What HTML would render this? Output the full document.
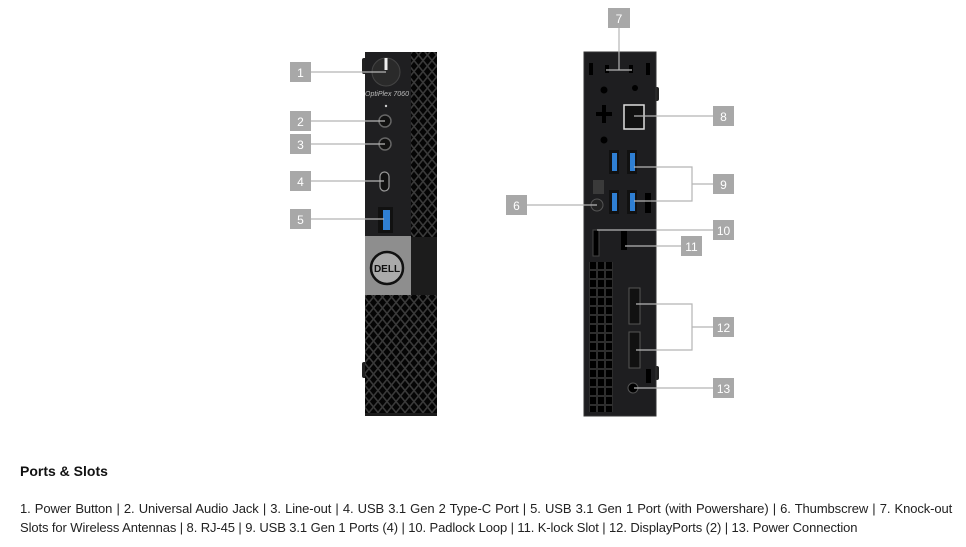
<!DOCTYPE html>
<html><head><meta charset="utf-8"><style>
html,body{margin:0;padding:0;background:#fff;width:966px;height:547px;overflow:hidden}
svg{position:absolute;left:0;top:0}
.t{position:absolute;font-family:"Liberation Sans",sans-serif;color:#111}
</style></head><body>
<svg width="966" height="547" viewBox="0 0 966 547">
<defs>
<pattern id="dia" x="0" y="0" width="9" height="11" patternUnits="userSpaceOnUse">
<rect width="9" height="11" fill="#3a3a3a"/>
<path d="M4.5 1.2 L8 5.5 L4.5 9.8 L1 5.5Z" fill="#050505"/>
<path d="M0 -4.3 L3.5 0 L0 4.3 L-3.5 0Z M9 -4.3 L12.5 0 L9 4.3 L5.5 0Z M0 6.7 L3.5 11 L0 15.3 L-3.5 11Z M9 6.7 L12.5 11 L9 15.3 L5.5 11Z" fill="#050505"/>
</pattern>
<pattern id="sq" x="590" y="262" width="8" height="9" patternUnits="userSpaceOnUse">
<rect width="8" height="9" fill="#2e2e2e"/><rect x="0" y="0" width="6" height="7" fill="#000"/>
</pattern>
</defs>
<!-- FRONT -->
<rect x="362" y="58" width="5" height="16" rx="2" fill="#222"/>
<rect x="362" y="362" width="5" height="16" rx="2" fill="#222"/>
<rect x="365" y="52" width="72" height="364" fill="#1c1c1c"/>
<rect x="411" y="52" width="26" height="185" fill="url(#dia)"/>
<rect x="365" y="295" width="72" height="118" fill="url(#dia)"/>
<rect x="365" y="52" width="46" height="184" fill="#1f1f21"/>
<rect x="365" y="236" width="46" height="59" fill="#8e8e8e"/>
<circle cx="387" cy="268" r="16" fill="#aaa" stroke="#111" stroke-width="2.5"/>
<text x="387" y="272" text-anchor="middle" font-family="Liberation Sans" font-weight="bold" font-size="10" fill="#111">DELL</text>
<circle cx="386" cy="72" r="14" fill="#2a2a2a" stroke="#444"/>
<rect x="384.5" y="58" width="3" height="12" fill="#eee"/>
<text x="365" y="96" font-family="Liberation Sans" font-style="italic" font-size="7" fill="#bbb">OptiPlex 7060</text>
<circle cx="386" cy="106" r="1.2" fill="#ccc"/>
<circle cx="385" cy="121" r="6" fill="#111" stroke="#666" stroke-width="1.5"/>
<circle cx="385" cy="144" r="6" fill="#111" stroke="#666" stroke-width="1.5"/>
<rect x="380" y="172" width="9" height="19" rx="4.5" fill="#111" stroke="#999" stroke-width="1.2"/>
<rect x="378" y="207" width="15" height="26" fill="#111"/>
<rect x="383" y="210" width="7" height="20" fill="#2f7fd3"/>
<g stroke="#b5b5b5" stroke-width="1.2">
<line x1="311" y1="72" x2="386" y2="72"/>
<line x1="311" y1="121" x2="385" y2="121"/>
<line x1="311" y1="144" x2="385" y2="144"/>
<line x1="311" y1="181" x2="384" y2="181"/>
<line x1="311" y1="219" x2="384" y2="219"/>
</g>
<g fill="#a8a8a8">
<rect x="290" y="62" width="21" height="20"/><rect x="290" y="111" width="21" height="20"/>
<rect x="290" y="134" width="21" height="20"/><rect x="290" y="171" width="21" height="20"/>
<rect x="290" y="209" width="21" height="20"/>
<rect x="608" y="8" width="22" height="20"/><rect x="713" y="106" width="21" height="20"/>
<rect x="713" y="174" width="21" height="20"/><rect x="506" y="195" width="21" height="20"/>
<rect x="713" y="220" width="21" height="20"/><rect x="681" y="236" width="21" height="20"/>
<rect x="713" y="317" width="21" height="20"/><rect x="713" y="378" width="21" height="20"/>
</g>
<g font-family="Liberation Sans" font-size="12" fill="#fff" text-anchor="middle">
<text x="300.5" y="77">1</text><text x="300.5" y="126">2</text><text x="300.5" y="149">3</text>
<text x="300.5" y="186">4</text><text x="300.5" y="224">5</text>
<text x="619" y="23">7</text><text x="723.5" y="121">8</text><text x="723.5" y="189">9</text>
<text x="516.5" y="210">6</text><text x="723.5" y="235">10</text><text x="691.5" y="251">11</text>
<text x="723.5" y="332">12</text><text x="723.5" y="393">13</text>
</g>
<!-- BACK -->
<rect x="654" y="87" width="5" height="14" rx="2" fill="#222"/>
<rect x="654" y="366" width="5" height="14" rx="2" fill="#222"/>
<rect x="584" y="52" width="72" height="364" fill="#1e1e20" stroke="#333"/>
<rect x="589" y="262" width="24" height="150" fill="url(#sq)"/>
<rect x="589" y="63" width="4" height="12" fill="#000"/><rect x="646" y="63" width="4" height="12" fill="#000"/>
<rect x="605" y="65" width="4" height="8" fill="#000"/><rect x="629" y="65" width="4" height="8" fill="#000"/>
<circle cx="604" cy="90" r="3.5" fill="#000"/><circle cx="635" cy="88" r="3" fill="#000"/><circle cx="604" cy="140" r="3.5" fill="#000"/>
<rect x="602" y="105" width="4" height="18" fill="#000"/><rect x="596" y="112" width="16" height="4" fill="#000"/>
<rect x="624" y="105" width="20" height="24" fill="#111" stroke="#ddd" stroke-width="1.5"/>
<g fill="#111"><rect x="609" y="150" width="10" height="24"/><rect x="627" y="150" width="10" height="24"/><rect x="609" y="190" width="10" height="24"/><rect x="627" y="190" width="10" height="24"/></g>
<g fill="#2f7fd3"><rect x="612" y="153" width="5" height="18"/><rect x="630" y="153" width="5" height="18"/><rect x="612" y="193" width="5" height="18"/><rect x="630" y="193" width="5" height="18"/></g>
<rect x="593" y="180" width="11" height="14" fill="#3a3a3a"/>
<circle cx="597" cy="205" r="6" fill="#222" stroke="#555"/>
<rect x="645" y="193" width="6" height="20" fill="#000"/>
<rect x="593" y="230" width="6" height="26" fill="#000" stroke="#444"/>
<rect x="621" y="231" width="6" height="19" fill="#000"/>
<rect x="629" y="288" width="11" height="36" fill="#111" stroke="#555"/>
<rect x="629" y="332" width="11" height="36" fill="#111" stroke="#555"/>
<circle cx="633" cy="388" r="5" fill="#000" stroke="#555"/>
<rect x="646" y="369" width="5" height="14" fill="#000"/>
<g stroke="#b5b5b5" stroke-width="1.2" fill="none">
<polyline points="619,28 619,70"/><line x1="606" y1="70" x2="632" y2="70"/>
<line x1="634" y1="116" x2="713" y2="116"/>
<polyline points="634,167 692,167 692,201 634,201"/><line x1="692" y1="184" x2="713" y2="184"/>
<line x1="527" y1="205" x2="597" y2="205"/>
<line x1="597" y1="230" x2="713" y2="230"/>
<line x1="625" y1="246" x2="681" y2="246"/>
<polyline points="636,304 692,304 692,350 636,350"/><line x1="692" y1="327" x2="713" y2="327"/>
<line x1="634" y1="388" x2="713" y2="388"/>
</g>
</svg>
<div class="t" style="left:20px;top:463px;font-size:14px;font-weight:bold">Ports &amp; Slots</div>
<div class="t" style="left:20px;top:499px;font-size:13px;line-height:19px;color:#222;white-space:nowrap;letter-spacing:-0.1px"><span style="word-spacing:0.65px">1. Power Button | 2. Universal Audio Jack | 3. Line-out | 4. USB 3.1 Gen 2 Type-C Port | 5. USB 3.1 Gen 1 Port (with Powershare) | 6. Thumbscrew | 7. Knock-out</span><br>Slots for Wireless Antennas | 8. RJ-45 | 9. USB 3.1 Gen 1 Ports (4) | 10. Padlock Loop | 11. K-lock Slot | 12. DisplayPorts (2) | 13. Power Connection</div>
</body></html>
